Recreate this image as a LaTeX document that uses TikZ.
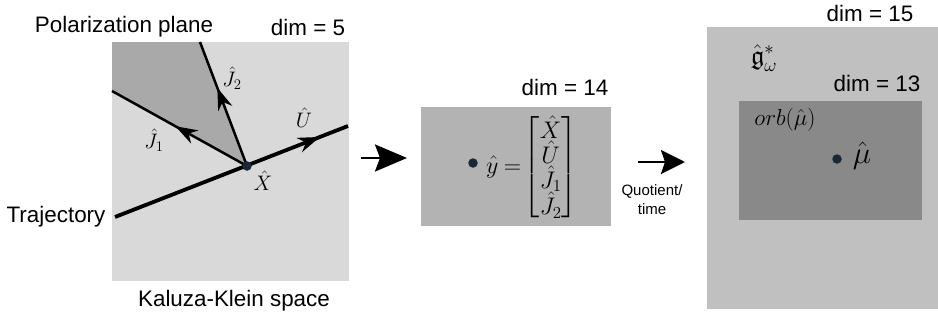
\RequirePackage{fix-cm}
\documentclass[tikz,border=0pt]{standalone}
\usepackage{amsmath,amssymb}
\usepackage{fontspec}
\setmainfont{Liberation Sans}
\usetikzlibrary{arrows.meta,decorations.markings}
\definecolor{kkgray}{HTML}{D9D9D9}
\definecolor{polgray}{HTML}{A9A9A9}
\definecolor{midgray}{HTML}{B3B3B3}
\definecolor{biggray}{HTML}{C0C0C0}
\definecolor{orbgray}{HTML}{898989}
\definecolor{dotcol}{HTML}{1A2835}
\begin{document}
\begin{tikzpicture}[x=1pt,y=-1pt,
  lbl/.style={font=\fontsize{22.4}{26}\selectfont, inner sep=0pt},
  small/.style={font=\fontsize{15}{19}\selectfont, inner sep=0pt, align=center},
  mlbl/.style={font=\fontsize{21}{24}\selectfont, inner sep=0pt},
  panel/.style={draw=none, inner sep=0pt, anchor=north west},
  dotnode/.style={circle, fill=dotcol, inner sep=0pt, minimum size=9.5pt},
  traj/.style={line width=3.8pt},
  vecline/.style={line width=2.5pt},
  midarrow/.style={postaction={decorate}, decoration={markings,
      mark=at position #1 with {\arrow{Stealth[length=22pt,width=15pt,inset=7pt]}}}},
  bigarrow/.style={line width=2.6pt, -{Stealth[length=32pt,width=27pt,inset=5pt]}},
  bigarrowb/.style={line width=2.6pt, -{Stealth[length=24pt,width=24pt,inset=4pt]}}
]
\useasboundingbox (0,0) rectangle (938,324);

% Left panel
\node[panel, fill=kkgray, minimum width=237pt, minimum height=239pt] (kk) at (112,42) {};
\coordinate (X) at (247,166);
\coordinate (t0) at (115,217);
\coordinate (t1) at (348,126);
\coordinate (j1) at (112,91);
\coordinate (j2) at (200,42);
\fill[polgray] (kk.north west) -- (j2) -- (X) -- (j1) -- cycle;
\draw[traj, midarrow=0.88] (t0) -- (t1);
\draw[vecline, midarrow=0.53] (X) -- (j1);
\draw[vecline, midarrow=0.63] (X) -- (j2);
\node[dotnode] (Xdot) at (X) {};

\node[mlbl] (lJ2) at (232,78) {$\hat J_2$};
\node[mlbl] (lJ1) at (154,140) {$\hat J_1$};
\node[mlbl] (lU) at (304,118) {$\hat U$};
\node[mlbl] (lX) at (263,181) {$\hat X$};

\node[lbl] (pp) at (124,27) {Polarization plane};
\node[lbl] (d5) at (308,27) {dim = 5};
\node[lbl] (trajlbl) at (56,217) {Trajectory};
\node[lbl] (kks) at (234,301) {Kaluza-Klein space};

% arrow 1
\coordinate (a1s) at (361,158);
\coordinate (a1e) at (407,158);
\draw[bigarrow] (a1s) -- (a1e);

% Middle panel
\node[panel, fill=midgray, minimum width=190pt, minimum height=119pt] (cfg) at (421,107) {};
\node[lbl] (d14) at (565,87) {dim = 14};
\node[dotnode] (ydot) at (473,163) {};
\node[inner sep=0pt, anchor=west, font=\fontsize{24}{25}\selectfont] (ymat) at (486,167)
  {$\renewcommand{\arraystretch}{0.3}\hat y\mkern-1mu=\mkern-3mu\begin{bmatrix}\hat X\\ \hat U\\ \hat J_1\\ \hat J_2\end{bmatrix}$};

% arrow 2
\coordinate (a2s) at (638,162);
\coordinate (a2e) at (685,162);
\draw[bigarrowb] (a2s) -- (a2e);
\node[small] (quot) at (652,200) {Quotient/\\time};

% Right panel
\node[panel, fill=biggray, minimum width=231pt, minimum height=282pt] (dual) at (707,27) {};
\node[lbl] (d15) at (870,13) {dim = 15};
\node[inner sep=0pt, font=\fontsize{27}{30}\selectfont] (g) at (764,58) {$\hat{\mathfrak g}^*_\omega$};
\node[lbl] (d13) at (877,83) {dim = 13};
\node[panel, fill=orbgray, minimum width=183pt, minimum height=119pt] (orbbox) at (739,101) {};
\node[inner sep=0pt, font=\fontsize{23}{26}\selectfont] (orb) at (785,120) {$orb(\hat\mu)$};
\node[dotnode] (mudot) at (837,159) {};
\node[inner sep=0pt, font=\fontsize{31}{34}\selectfont] (mu) at (862,156) {$\hat\mu$};
\end{tikzpicture}
\end{document}
